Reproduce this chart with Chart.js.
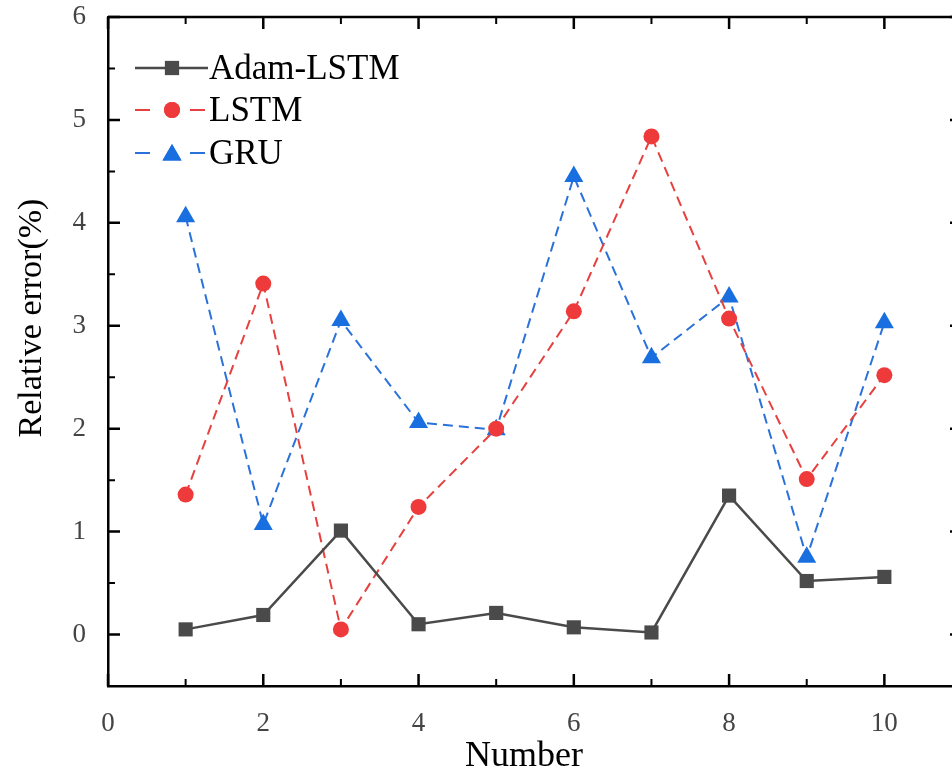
<!DOCTYPE html>
<html>
<head>
<meta charset="utf-8">
<script src="https://cdn.jsdelivr.net/npm/chart.js@4.4.1/dist/chart.umd.min.js"></script>
<style>
  html, body { margin: 0; padding: 0; background: #fff; overflow: hidden; }
  #wrap { width: 973px; height: 773px; }
</style>
</head>
<body>
<div id="wrap"><canvas id="chart" width="973" height="773"></canvas></div>
<script>
// DATA
const xValues = [1, 2, 3, 4, 5, 6, 7, 8, 9, 10];
const adamLstm = [0.05, 0.19, 1.01, 0.10, 0.21, 0.07, 0.02, 1.35, 0.52, 0.56];
const lstm = [1.36, 3.41, 0.05, 1.24, 2.00, 3.14, 4.84, 3.07, 1.51, 2.52];
const gru = [4.06, 1.07, 3.05, 2.06, 1.99, 4.45, 2.69, 3.28, 0.75, 3.03];

const seriesNames = ['Adam-LSTM', 'LSTM', 'GRU'];
const xTicks = [0, 2, 4, 6, 8, 10];
const xMinorTicks = [1, 3, 5, 7, 9, 11];
const yTicks = [0, 1, 2, 3, 4, 5, 6];
const yMinorTicks = [-0.5, 0.5, 1.5, 2.5, 3.5, 4.5, 5.5];

const xTitle = 'Number';
const yTitle = 'Relative error(%)';

const toPoints = (ys) => ys.map((y, i) => ({ x: xValues[i], y }));

const serif = '"Liberation Serif", "Times New Roman", serif';

// frame, inward ticks, titles, legend
const framePlugin = {
    id: 'frame',
    afterDraw(chart) {
        const ctx = chart.ctx;
        const a = chart.chartArea;
        const xs = chart.scales.x;
        const ys = chart.scales.y;
        ctx.save();
        ctx.strokeStyle = '#000';
        ctx.lineWidth = 2.5;
        ctx.beginPath();
        ctx.moveTo(a.left, a.top);
        ctx.lineTo(a.right, a.top);
        ctx.moveTo(a.right, a.top);
        ctx.lineTo(a.right, a.bottom);
        ctx.stroke();

        const drawX = (vals, len) => {
            vals.forEach(v => {
                const px = xs.getPixelForValue(v);
                ctx.beginPath();
                ctx.moveTo(px, a.bottom);
                ctx.lineTo(px, a.bottom - len);
                ctx.moveTo(px, a.top);
                ctx.lineTo(px, a.top + len);
                ctx.stroke();
            });
        };
        const drawY = (vals, len) => {
            vals.forEach(v => {
                const py = ys.getPixelForValue(v);
                ctx.beginPath();
                ctx.moveTo(a.left, py);
                ctx.lineTo(a.left + len, py);
                ctx.moveTo(a.right, py);
                ctx.lineTo(a.right - len, py);
                ctx.stroke();
            });
        };
        ctx.lineWidth = 2.5;
        drawX(xTicks, 12);
        drawY(yTicks, 12);
        ctx.lineWidth = 2;
        drawX(xMinorTicks, 7);
        drawY(yMinorTicks, 7);

        // axis titles
        ctx.fillStyle = '#000';
        ctx.font = '36px ' + serif;
        ctx.textAlign = 'center';
        ctx.textBaseline = 'alphabetic';
        ctx.fillText(xTitle, 524, 766);
        ctx.save();
        ctx.translate(32, 318);
        ctx.rotate(-Math.PI / 2);
        ctx.textBaseline = 'middle';
        ctx.font = '34px ' + serif;
        ctx.fillText(yTitle, 0, 0);
        ctx.restore();

        // legend
        const rows = [68, 110, 153];
        chart.data.datasets.forEach((ds, i) => {
            const y = rows[i];
            ctx.strokeStyle = ds.borderColor;
            ctx.lineWidth = ds.borderWidth;
            ctx.setLineDash([]);
            ctx.beginPath();
            if (ds.borderDash && ds.borderDash.length) {
                ctx.moveTo(135, y); ctx.lineTo(150, y);
                ctx.moveTo(190, y); ctx.lineTo(205, y);
            } else {
                ctx.moveTo(135, y); ctx.lineTo(208, y);
            }
            ctx.stroke();
            ctx.fillStyle = ds.pointBackgroundColor;
            Chart.helpers.drawPoint(ctx, {
                pointStyle: ds.pointStyle,
                radius: ds.pointRadius,
                borderWidth: 0
            }, 172, ds.pointStyle === 'triangle' ? y + 2 : y);
            ctx.fill();
            ctx.fillStyle = '#000';
            ctx.font = '35px ' + serif;
            ctx.textAlign = 'left';
            ctx.textBaseline = 'middle';
            ctx.fillText(ds.label, 209, y + 2);
        });
        ctx.restore();
    }
};

new Chart(document.getElementById('chart').getContext('2d'), {
    type: 'line',
    data: {
        datasets: [
            {
                label: seriesNames[0],
                data: toPoints(adamLstm),
                borderColor: '#4a4a4a',
                backgroundColor: '#4a4a4a',
                pointBackgroundColor: '#4a4a4a',
                borderWidth: 2.5,
                pointStyle: 'rect',
                pointRadius: 10,
                pointBorderWidth: 0
            },
            {
                label: seriesNames[1],
                data: toPoints(lstm),
                borderColor: '#e6403f',
                backgroundColor: '#ee3a3a',
                pointBackgroundColor: '#ee3a3a',
                borderWidth: 2,
                borderDash: [10, 6],
                pointStyle: 'circle',
                pointRadius: 8,
                pointBorderWidth: 0
            },
            {
                label: seriesNames[2],
                data: toPoints(gru),
                borderColor: '#2a72d9',
                backgroundColor: '#1a6fe0',
                pointBackgroundColor: '#1a6fe0',
                borderWidth: 2,
                borderDash: [10, 6],
                pointStyle: 'triangle',
                pointRadius: 11,
                pointBorderWidth: 0
            }
        ]
    },
    options: {
        responsive: false,
        animation: false,
        layout: { padding: { top: 17, right: 7, left: 0, bottom: 0 } },
        plugins: { legend: { display: false }, tooltip: { enabled: false } },
        scales: {
            x: {
                type: 'linear',
                min: 0,
                max: 11,
                afterBuildTicks: (s) => { s.ticks = xTicks.map(v => ({ value: v })); },
                afterFit: (s) => { s.height = 87; s.paddingLeft = 0; s.paddingRight = 0; },
                grid: { display: false },
                border: { display: true, color: '#000', width: 2.5 },
                ticks: { color: '#444', padding: 14, font: { family: serif, size: 27 } }
            },
            y: {
                type: 'linear',
                min: -0.5,
                max: 6,
                afterBuildTicks: (s) => { s.ticks = yTicks.map(v => ({ value: v })); },
                afterFit: (s) => { s.width = 108; s.paddingTop = 0; s.paddingBottom = 0; },
                grid: { display: false },
                border: { display: true, color: '#000', width: 2.5 },
                ticks: { color: '#444', padding: 14, font: { family: serif, size: 27 } }
            }
        }
    },
    plugins: [framePlugin]
});
</script>
</body>
</html>
